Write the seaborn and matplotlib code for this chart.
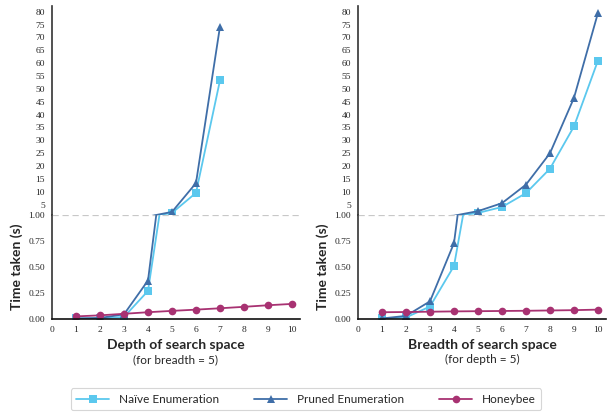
import pandas as pd
import matplotlib.pyplot as plt
import seaborn as sns

# values
depth = [1, 2, 3, 4, 5, 6, 7, 8, 9, 10]
naive_depth = [0.005, 0.005, 0.02, 0.27, 1.8, 9.6, 53.3]
pruned_depth = [0.005, 0.01, 0.045, 0.37, 2.2, 13.4, 74.2]
honeybee_depth = [0.025, 0.035, 0.05, 0.065, 0.078, 0.09, 0.103, 0.117, 0.132, 0.145]

breadth = [1, 2, 3, 4, 5, 6, 7, 8, 9, 10]
naive_breadth = [0.005, 0.015, 0.12, 0.51, 1.8, 4.1, 9.5, 19.0, 35.4, 61.0]
pruned_breadth = [0.005, 0.03, 0.17, 0.73, 2.5, 5.6, 12.8, 25.0, 46.5, 79.5]
honeybee_breadth = [0.065, 0.067, 0.07, 0.073, 0.075, 0.077, 0.079, 0.082, 0.085, 0.09]

series_names = ["Naïve Enumeration", "Pruned Enumeration", "Honeybee"]
colors = {"Naïve Enumeration": "#5BC8EE", "Pruned Enumeration": "#3F6EA8", "Honeybee": "#A83272"}
markers = {"Naïve Enumeration": "s", "Pruned Enumeration": "^", "Honeybee": "o"}

top_ticks = [5, 10, 15, 20, 25, 30, 35, 40, 45, 50, 55, 60, 65, 70, 75, 80]
bottom_ticks = [0.0, 0.25, 0.5, 0.75, 1.0]

panels = [
    ("Depth of search space", "(for breadth = 5)", depth,
     [naive_depth, pruned_depth, honeybee_depth]),
    ("Breadth of search space", "(for depth = 5)", breadth,
     [naive_breadth, pruned_breadth, honeybee_breadth]),
]

sns.set_style("white")
plt.rcParams["font.family"] = ["Lato", "DejaVu Sans"]
tick_font = "Liberation Serif"


def build_frame(xs, values):
    rows = []
    for name, vals in zip(series_names, values):
        for x, v in zip(xs, vals):
            rows.append({"x": x, "time": v, "series": name})
    return pd.DataFrame(rows)


def draw_part(ax, df, lo, hi, with_label):
    # line through all points, markers only where the point lies in this part
    for name in series_names:
        sub = df[df["series"] == name]
        sns.lineplot(data=sub, x="x", y="time", ax=ax, color=colors[name],
                     linewidth=1.3, legend=False)
        inside = sub[(sub["time"] >= lo) & (sub["time"] <= hi)]
        sns.lineplot(data=inside, x="x", y="time", ax=ax, color=colors[name],
                     marker=markers[name], markersize=5.5, markeredgewidth=0,
                     linestyle="none", legend=False)
        if with_label:
            ax.plot([], [], color=colors[name], marker=markers[name], markersize=5.5,
                    markeredgewidth=0, linewidth=1.3, label=name)


fig = plt.figure(figsize=(6.12, 4.16), dpi=100)
lefts = [0.085, 0.585]
handles = None

for left, (xlabel, sublabel, xs, values) in zip(lefts, panels):
    ax_top = fig.add_axes([left, 0.4832, 0.405, 0.5024])
    ax_bot = fig.add_axes([left, 0.2332, 0.405, 0.25], sharex=ax_top)
    df = build_frame(xs, values)

    draw_part(ax_top, df, 1.0, 1000, False)
    draw_part(ax_bot, df, 0.0, 1.0, True)

    for ax in (ax_top, ax_bot):
        ax.set_xlabel("")
        ax.set_ylabel("")
        for s in ("top", "right"):
            ax.spines[s].set_visible(False)
        ax.spines["left"].set_color("#333333")
        ax.spines["left"].set_linewidth(1.2)

    ax_top.set_ylim(1, 82.2)
    ax_top.set_yticks(top_ticks)
    ax_top.set_yticklabels([str(t) for t in top_ticks], fontfamily=tick_font, fontsize=6.8)
    ax_top.spines["bottom"].set_visible(False)
    ax_top.tick_params(axis="x", bottom=False, labelbottom=False)
    ax_top.tick_params(axis="y", length=3, width=0.8, pad=2)

    ax_bot.set_ylim(0, 1)
    ax_bot.set_xlim(0, 10.33)
    ax_bot.set_yticks(bottom_ticks)
    ax_bot.set_yticklabels([f"{t:.2f}" for t in bottom_ticks], fontfamily=tick_font, fontsize=6.8)
    ax_bot.set_xticks(range(0, 11))
    ax_bot.set_xticklabels([str(t) for t in range(0, 11)], fontfamily=tick_font, fontsize=6.8)
    ax_bot.tick_params(axis="y", length=3, width=0.8, pad=2)
    ax_bot.tick_params(axis="x", length=0, pad=5)
    ax_bot.spines["bottom"].set_color("#111111")
    ax_bot.spines["bottom"].set_linewidth(1.2)
    ax_bot.axhline(1.0, color="#c8c8c8", linestyle=(0, (5, 3)), linewidth=0.9, zorder=0)

    ax_bot.set_xlabel(xlabel, fontsize=10, fontweight="bold", labelpad=4)
    ax_bot.text(0.5, -0.34, sublabel, transform=ax_bot.transAxes, ha="center",
                va="top", fontsize=8.5)
    ax_bot.set_ylabel("Time taken (s)", fontsize=10, fontweight="bold", labelpad=4)

    if handles is None:
        handles, labels = ax_bot.get_legend_handles_labels()

leg = fig.legend(handles, labels, loc="lower center", bbox_to_anchor=(0.5, 0.0),
                 ncol=3, fontsize=8.5, frameon=True, handlelength=2.8,
                 columnspacing=3.0, borderpad=0.45, fancybox=True)
leg.get_frame().set_edgecolor("#cccccc")
leg.get_frame().set_linewidth(0.8)

fig.savefig("out.png", dpi=100)
